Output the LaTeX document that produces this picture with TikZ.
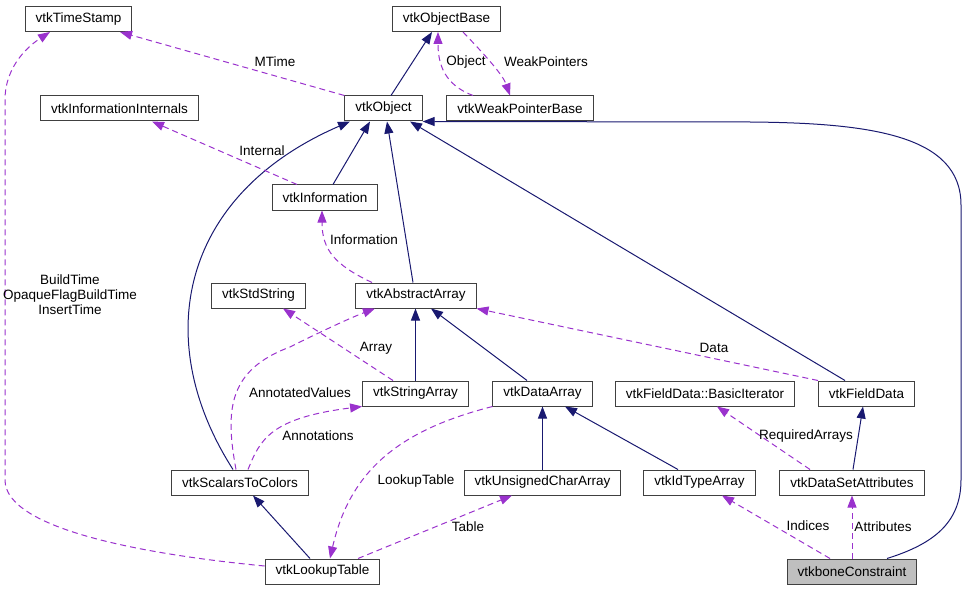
\documentclass[tikz,border=0pt]{standalone}
\usepackage{fontspec}
\setmainfont{Liberation Sans}
\usetikzlibrary{arrows.meta, positioning}
\definecolor{inhblue}{HTML}{191970}
\definecolor{usepurple}{HTML}{9A32CD}
\tikzset{
	cls/.style = {draw=black!75, line width=1pt, fill=white, minimum height=25pt,
		inner xsep=10.5pt, font=\fontsize{13.5}{15}\selectfont},
	inh/.style = {inhblue, line width=1pt, -{Triangle[length=12pt,width=9pt]}},
	use/.style = {usepurple, line width=1pt, dash pattern=on 6pt off 4pt,
		-{Triangle[length=12pt,width=9pt]}},
	lbl/.style = {font=\fontsize{13.5}{15}\selectfont, inner sep=0pt, align=center}
}
\begin{document}
\begin{tikzpicture}[x=1pt, y=-1pt]
		\useasboundingbox (0,0) rectangle (967,591);
		
		\node at (78.5,19) (ts) [cls] {vtkTimeStamp};
		\node at (446.5,19) (ob) [cls] {vtkObjectBase};
		\node at (119.5,108.5) (ii) [cls] {vtkInformationInternals};
		\node at (383.5,108.5) (obj) [cls] {vtkObject};
		\node at (520,108.5) (wpb) [cls] {vtkWeakPointerBase};
		\node at (325,197.5) (info) [cls] {vtkInformation};
		\node at (258.5,295.5) (ss) [cls] {vtkStdString};
		\node at (416,295.5) (aa) [cls] {vtkAbstractArray};
		\node at (415.5,393.5) (sa) [cls] {vtkStringArray};
		\node at (542.5,393.5) (da) [cls] {vtkDataArray};
		\node at (705,393.5) (bi) [cls] {vtkFieldData::BasicIterator};
		\node at (866.5,393.5) (fd) [cls] {vtkFieldData};
		\node at (240,482.5) (stc) [cls] {vtkScalarsToColors};
		\node at (542.5,482.5) (uca) [cls] {vtkUnsignedCharArray};
		\node at (699.5,482.5) (ita) [cls] {vtkIdTypeArray};
		\node at (852,482.5) (dsa) [cls] {vtkDataSetAttributes};
		\node at (322.5,571.5) (lut) [cls] {vtkLookupTable};
		\node at (852,571.5) (bc) [cls, fill=black!25] {vtkboneConstraint};
		
		% base classes
		\path [inh]
		([xshift=7.5pt]obj.north) edge ([xshift=-14.5pt]ob.south)
		([xshift=8pt]info.north) edge ([xshift=-13.5pt]obj.south)
		([xshift=-3pt]aa.north) edge ([xshift=3.5pt]obj.south)
		([xshift=-21.5pt]fd.north) edge ([xshift=26.5pt]obj.south)
		(sa.north) edge (sa.north |- aa.south)
		([xshift=-15.5pt]da.north) edge ([xshift=15pt]aa.south)
		(uca.north) edge (da.south)
		([xshift=-21.5pt]ita.north) edge ([xshift=22.5pt]da.south)
		([xshift=1pt]dsa.north) edge ([xshift=-3.5pt]fd.south)
		([xshift=-12.5pt]lut.north) edge ([xshift=13pt]stc.south);
		
		\draw [inh] ([xshift=-7pt]stc.north) .. controls (150,340) and (180,195) .. ([xshift=-33.5pt]obj.south);
		\draw [inh] ([xshift=35pt]bc.north) .. controls (930,545) and (961,525) .. (961,480)
		-- (961,205) .. controls (961,135) and (870,123) .. (750,122) -- (obj.south east);
		
		% members
		\path [use]
		(obj.north west) edge ([xshift=41.5pt]ts.south)
		([xshift=-28pt]info.north) edge ([xshift=32.5pt]ii.south)
		([xshift=-22.5pt]sa.north) edge ([xshift=24.5pt]ss.south)
		(fd.north west) edge (aa.south east)
		([xshift=35.5pt]lut.north) edge ([xshift=-30.5pt]uca.south)
		([xshift=-42pt]dsa.north) edge ([xshift=12pt]bi.south)
		([xshift=-22pt]bc.north) edge ([xshift=22.5pt]ita.south)
		(bc.north) edge (dsa.south);
		
		\draw [use] ([xshift=-47pt]wpb.north) .. controls (445,85) and (438,65) .. ([xshift=-8.5pt]ob.south);
		\draw [use] ([xshift=16.5pt]ob.south) .. controls (485,55) and (503,75) .. ([xshift=-10pt]wpb.north);
		\draw [use] ([xshift=-44pt]aa.north) .. controls (335,265) and (322,250) .. ([xshift=-3pt]info.south);
		\draw [use] ([xshift=-4pt]stc.north) .. controls (225,410) and (228,370) .. (290,347)
		.. controls (320,332) and (350,318) .. ([xshift=-41pt]aa.south);
		\draw [use] ([xshift=8pt]stc.north) .. controls (260,440) and (270,418) .. (sa.south west);
		\draw [use] ([yshift=5.5pt]lut.west) .. controls (150,555) and (5,530) .. (5,480)
		-- (5,100) .. controls (5,65) and (30,45) .. ([xshift=-28.5pt]ts.south);
		\draw [use] (da.south west) .. controls (400,430) and (350,470) .. ([xshift=7.5pt]lut.north);
		
		% labels
		\node at (275,62) (l-mtime) [lbl] {MTime};
		\node at (466,62) (l-object) [lbl] {Object};
		\node at (546,62) (l-weak) [lbl] {WeakPointers};
		\node at (262,151) (l-internal) [lbl] {Internal};
		\node at (364,240) (l-info) [lbl] {Information};
		\node at (70,295) (l-times) [lbl] {BuildTime\\OpaqueFlagBuildTime\\InsertTime};
		\node at (376,348) (l-array) [lbl] {Array};
		\node at (714,348) (l-data) [lbl] {Data};
		\node at (300,393) (l-annval) [lbl] {AnnotatedValues};
		\node at (318,436) (l-annot) [lbl] {Annotations};
		\node at (806,436) (l-req) [lbl] {RequiredArrays};
		\node at (416,481) (l-lut) [lbl] {LookupTable};
		\node at (468,527) (l-table) [lbl] {Table};
		\node at (808,526) (l-indices) [lbl] {Indices};
		\node at (883,527) (l-attr) [lbl] {Attributes};
	\end{tikzpicture}
\end{document}
